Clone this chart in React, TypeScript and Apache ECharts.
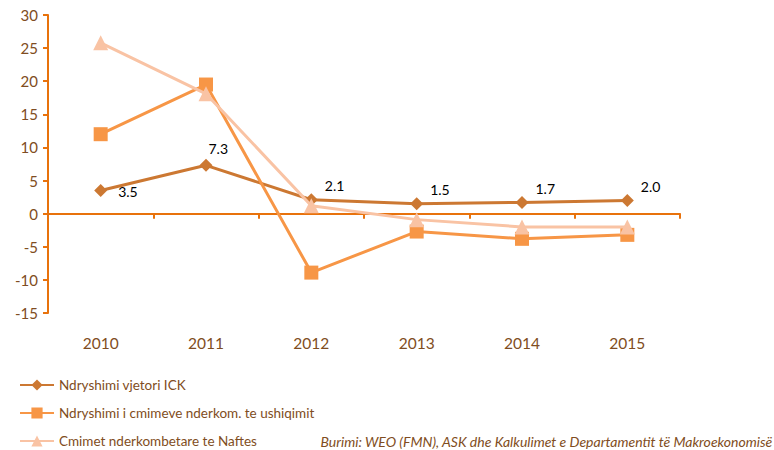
import React, { useEffect, useRef } from "react";
import * as echarts from "echarts";

const years = ["2010", "2011", "2012", "2013", "2014", "2015"];
const ick = [3.5, 7.3, 2.1, 1.5, 1.7, 2.0];
const ushqimit = [12.0, 19.5, -8.9, -2.7, -3.8, -3.2];
const naftes = [25.8, 18.1, 1.2, -0.9, -2.0, -2.0];
const seriesNames = [
  "Ndryshimi vjetori ICK",
  "Ndryshimi i cmimeve nderkom. te ushiqimit",
  "Cmimet nderkombetare te Naftes",
];
const sourceText = "Burimi: WEO (FMN), ASK dhe Kalkulimet e Departamentit të Makroekonomisë";
const labelOffsets: [number, number][] = [[6, 1], [-9, -17], [2, -14], [2, -14], [2, -14], [2, -14]];

const brown = "#7f4d22";
const axisOrange = "#e8720c";

export default function App() {
  const ref = useRef<HTMLDivElement>(null);
  useEffect(() => {
    if (!ref.current) return;
    const chart = echarts.init(ref.current, null, { renderer: "svg" });
    const font = "Lato, 'Open Sans', sans-serif";
    chart.setOption({
      animation: false,
      textStyle: { fontFamily: font },
      grid: { left: 48, right: 94, top: 15, bottom: 137 },
      legend: seriesNames.map((n, i) => ({
        orient: "vertical",
        left: 19,
        top: 378 + i * 28,
        padding: 0,
        itemWidth: 34,
        itemHeight: 14,
        textStyle: { color: brown, fontSize: 13.5, fontFamily: font },
        data: [n],
      })),
      graphic: [
        {
          type: "text",
          right: 1,
          top: 434,
          style: {
            text: sourceText,
            fill: brown,
            font: "italic 14px " + font,
          },
        },
      ],
      xAxis: [
        {
          type: "category",
          data: years,
          boundaryGap: true,
          axisLine: { onZero: true, lineStyle: { color: axisOrange, width: 2 } },
          axisTick: { show: true, length: 5, lineStyle: { color: axisOrange, width: 2 } },
          axisLabel: { show: false },
        },
        {
          type: "category",
          data: years,
          position: "bottom",
          boundaryGap: true,
          axisLine: { show: false },
          axisTick: { show: false },
          axisLabel: { color: brown, fontSize: 15.5, margin: 22, fontFamily: font },
        },
      ],
      yAxis: {
        type: "value",
        min: -15,
        max: 30,
        interval: 5,
        splitLine: { show: false },
        axisLine: { show: true, lineStyle: { color: axisOrange, width: 2 } },
        axisTick: { show: true, length: 5, lineStyle: { color: axisOrange, width: 2 } },
        axisLabel: { color: brown, fontSize: 15, margin: 10, fontFamily: font },
      },
      series: [
        {
          name: seriesNames[0],
          type: "line",
          data: ick.map((v, i) => ({
            value: v,
            label: {
              show: true,
              position: "right",
              offset: labelOffsets[i],
              formatter: (p: any) => Number(p.value).toFixed(1),
              color: "#000",
              fontSize: 14,
              fontFamily: font,
            },
          })),
          symbol: "diamond",
          symbolSize: 13,
          itemStyle: { color: "#cc7832" },
          lineStyle: { color: "#cc7832", width: 3 },
          z: 3,
        },
        {
          name: seriesNames[1],
          type: "line",
          data: ushqimit,
          symbol: "rect",
          symbolSize: 14,
          itemStyle: { color: "#f79646" },
          lineStyle: { color: "#f79646", width: 3 },
          z: 4,
        },
        {
          name: seriesNames[2],
          type: "line",
          data: naftes,
          symbol: "triangle",
          symbolSize: 15,
          itemStyle: { color: "#f9c3a4" },
          lineStyle: { color: "#f9c3a4", width: 3 },
          z: 5,
        },
      ],
    });
    return () => chart.dispose();
  }, []);
  return (
    <div
      ref={ref}
      style={{ position: "absolute", left: 0, top: 0, width: 774, height: 450 }}
    />
  );
}
